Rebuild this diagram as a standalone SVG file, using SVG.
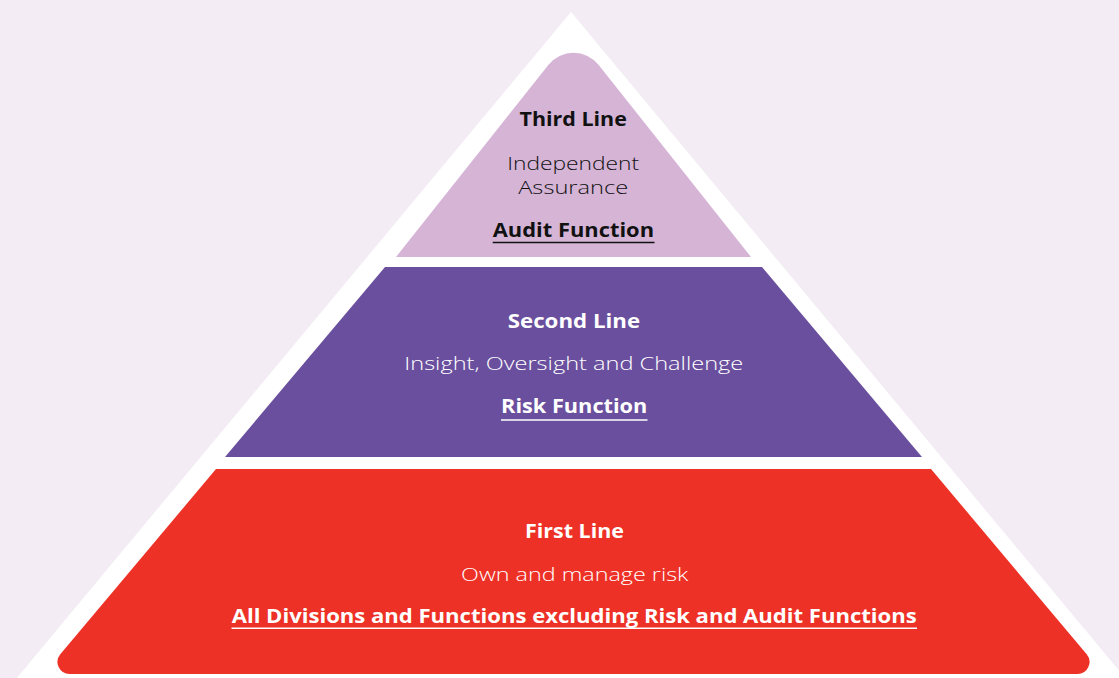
<svg xmlns="http://www.w3.org/2000/svg" width="1119" height="678" viewBox="0 0 1119 678">
  <style>
    .bold { font-family: "Open Sans", "Liberation Sans", sans-serif; font-weight: 700; font-size: 20px; text-anchor: middle; }
    .light { font-family: "Open Sans", "Liberation Sans", sans-serif; font-weight: 300; font-size: 18.5px; text-anchor: middle; }
    .dark { fill: #111111; }
    .white { fill: #ffffff; }
    .ul-dark { stroke: #111111; stroke-width: 1.5; }
    .ul-white { stroke: #ffffff; stroke-width: 1.5; }
  </style>
  <rect x="0" y="0" width="1119" height="678" fill="#f3ecf4"/>
  <polygon id="frame" points="571,12 1126,679 16,679" fill="#ffffff"/>

  <g id="tier-third">
    <path d="M396,257 L548.5,64.8 A32,32 0 0 1 598.5,64.8 L751,257 Z" fill="#d5b4d6"/>
    <text class="bold dark" x="573.2" y="126" textLength="107.4" lengthAdjust="spacingAndGlyphs">Third Line</text>
    <text class="light dark" x="573.2" y="170" textLength="132" lengthAdjust="spacingAndGlyphs">Independent</text>
    <text class="light dark" x="573.2" y="194" textLength="110" lengthAdjust="spacingAndGlyphs">Assurance</text>
    <text class="bold dark" x="573.4" y="237" textLength="161.3" lengthAdjust="spacingAndGlyphs">Audit Function</text>
    <line class="ul-dark" x1="492.7" y1="242.5" x2="654.5" y2="242.5"/>
  </g>

  <g id="tier-second">
    <polygon points="385,267 762,267 922,457 225,457" fill="#6a4f9e"/>
    <text class="bold white" x="573.9" y="328" textLength="132.3" lengthAdjust="spacingAndGlyphs">Second Line</text>
    <text class="light white" x="573.8" y="370" textLength="339" lengthAdjust="spacingAndGlyphs">Insight, Oversight and Challenge</text>
    <text class="bold white" x="574.2" y="413" textLength="146.3" lengthAdjust="spacingAndGlyphs">Risk Function</text>
    <line class="ul-white" x1="501" y1="420" x2="647.5" y2="420"/>
  </g>

  <g id="tier-first">
    <path d="M216,469 L931,469 L1086.7,654.3 A12,12 0 0 1 1077.5,674 L69.5,674 A12,12 0 0 1 60.3,654.3 Z" fill="#ee3126"/>
    <text class="bold white" x="574.5" y="538" textLength="99" lengthAdjust="spacingAndGlyphs">First Line</text>
    <text class="light white" x="574.7" y="581" textLength="227.3" lengthAdjust="spacingAndGlyphs">Own and manage risk</text>
    <text class="bold white" x="574.2" y="623" textLength="685" lengthAdjust="spacingAndGlyphs">All Divisions and Functions excluding Risk and Audit Functions</text>
    <line class="ul-white" x1="231.5" y1="628.3" x2="917" y2="628.3"/>
  </g>
</svg>
